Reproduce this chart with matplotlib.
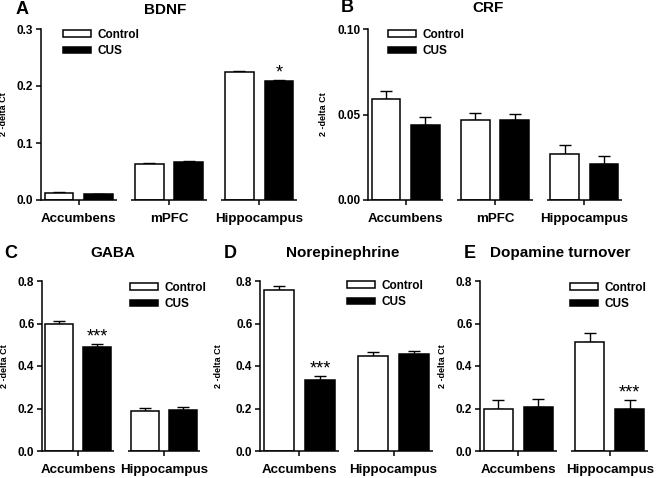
import matplotlib
matplotlib.use("Agg")
import matplotlib.pyplot as plt
from matplotlib.patches import Patch
import numpy as np

plt.rcParams['font.family'] = ['Liberation Sans', 'DejaVu Sans']
plt.rcParams['font.weight'] = 'bold'

# data
regions3 = ['Accumbens', 'mPFC', 'Hippocampus']
regions2 = ['Accumbens', 'Hippocampus']

bdnf_ctrl = [0.013, 0.064, 0.225]
bdnf_ctrl_err = [0.0015, 0.0015, 0.0012]
bdnf_cus = [0.010, 0.067, 0.209]
bdnf_cus_err = [0.001, 0.0015, 0.0012]
bdnf_stars = ['', '', '*']

crf_ctrl = [0.059, 0.047, 0.027]
crf_ctrl_err = [0.005, 0.004, 0.005]
crf_cus = [0.044, 0.047, 0.021]
crf_cus_err = [0.0045, 0.0035, 0.0045]
crf_stars = ['', '', '']

gaba_ctrl = [0.597, 0.188]
gaba_ctrl_err = [0.016, 0.016]
gaba_cus = [0.488, 0.193]
gaba_cus_err = [0.016, 0.016]
gaba_stars = ['***', '']

ne_ctrl = [0.757, 0.447]
ne_ctrl_err = [0.02, 0.018]
ne_cus = [0.335, 0.455]
ne_cus_err = [0.018, 0.017]
ne_stars = ['***', '']

da_ctrl = [0.198, 0.513]
da_ctrl_err = [0.04, 0.042]
da_cus = [0.205, 0.200]
da_cus_err = [0.04, 0.04]
da_stars = ['', '***']

W, H = 656, 478
fig = plt.figure(figsize=(W / 100, H / 100), dpi=100)

SP = 2.5      # group spacing
OFF = 0.55    # bar offset from group center
BW = 0.8      # bar width
HALF = 1.05   # half-length of axis segment


def px_axes(l, r, t, b):
    return fig.add_axes([l / W, 1 - b / H, (r - l) / W, (b - t) / H])


def panel(l, r, t, b, names, ctrl, ctrl_err, cus, cus_err, stars,
          ymax, yticks, fmt, letter, title, title_x, letter_x, text_y,
          ylab_x, leg_x, leg_y):
    ax = px_axes(l, r, t, b)
    x = np.arange(len(names)) * SP
    ax.bar(x - OFF, ctrl, BW, color='white', edgecolor='black', linewidth=1.1, zorder=2)
    ax.bar(x + OFF, cus, BW, color='black', edgecolor='black', linewidth=1.1, zorder=2)
    ax.errorbar(x - OFF, ctrl, yerr=[np.zeros(len(x)), ctrl_err], fmt='none',
                ecolor='black', elinewidth=1, capsize=4, capthick=1, zorder=1)
    ax.errorbar(x + OFF, cus, yerr=[np.zeros(len(x)), cus_err], fmt='none',
                ecolor='black', elinewidth=1, capsize=4, capthick=1, zorder=1)
    for xi, v, e, s in zip(x + OFF, cus, cus_err, stars):
        if s:
            ax.annotate(s, (xi, v + e), xytext=(0, -1), textcoords='offset points',
                        ha='center', va='bottom', fontsize=13, fontweight='normal')

    ax.set_xlim(-HALF, x[-1] + HALF)
    ax.set_ylim(0, ymax)
    for sp in ['top', 'right', 'bottom']:
        ax.spines[sp].set_visible(False)
    ax.spines['left'].set_linewidth(1.1)
    for xi in x:
        ax.plot([xi - HALF, xi + HALF], [0, 0], color='black', lw=1.1,
                clip_on=False, solid_capstyle='butt')
    ax.set_xticks(x)
    ax.set_xticklabels(names, fontsize=9.6, fontweight='bold')
    ax.set_yticks(yticks)
    ax.set_yticklabels([fmt % v for v in yticks], fontsize=8.5, fontweight='bold')
    ax.tick_params(axis='both', length=3.5, width=1.1, direction='out')
    ax.tick_params(axis='x', pad=6)
    ax.tick_params(axis='y', pad=2)

    ax.set_ylabel('2 -delta Ct', fontsize=6.5, fontweight='bold')
    ax.yaxis.set_label_coords((ylab_x - l) / (r - l), 0.5)

    fig.text(title_x / W, 1 - text_y / H, title, fontsize=11, fontweight='bold',
             ha='center', va='center')
    fig.text(letter_x / W, 1 - text_y / H, letter, fontsize=13, fontweight='bold',
             ha='left', va='center')

    handles = [Patch(facecolor='white', edgecolor='black', linewidth=1.1),
               Patch(facecolor='black', edgecolor='black', linewidth=1.1)]
    ax.legend(handles, ['Control', 'CUS'], loc='upper left',
              bbox_to_anchor=(leg_x / W, 1 - leg_y / H), bbox_transform=fig.transFigure,
              frameon=False, handlelength=2.4, handleheight=0.5,
              handletextpad=0.5, labelspacing=0.35, borderpad=0, borderaxespad=0,
              prop={'weight': 'bold', 'size': 8.5})
    return ax


panel(41, 297, 29, 200, regions3, bdnf_ctrl, bdnf_ctrl_err, bdnf_cus, bdnf_cus_err,
      bdnf_stars, 0.3, [0, 0.1, 0.2, 0.3], '%.1f', 'A', 'BDNF', 165, 16, 10,
      8, 63, 29)
panel(368, 622, 29, 200, regions3, crf_ctrl, crf_ctrl_err, crf_cus, crf_cus_err,
      crf_stars, 0.10, [0, 0.05, 0.10], '%.2f', 'B', 'CRF', 488, 341, 8,
      328, 388, 29)
panel(42, 200, 281, 451, regions2, gaba_ctrl, gaba_ctrl_err, gaba_cus, gaba_cus_err,
      gaba_stars, 0.8, [0, 0.2, 0.4, 0.6, 0.8], '%.1f', 'C', 'GABA', 113, 4, 253,
      9, 130, 282)
panel(260, 433, 281, 451, regions2, ne_ctrl, ne_ctrl_err, ne_cus, ne_cus_err,
      ne_stars, 0.8, [0, 0.2, 0.4, 0.6, 0.8], '%.1f', 'D', 'Norepinephrine', 343, 224, 253,
      223, 347, 280)
panel(480, 648, 281, 451, regions2, da_ctrl, da_ctrl_err, da_cus, da_cus_err,
      da_stars, 0.8, [0, 0.2, 0.4, 0.6, 0.8], '%.1f', 'E', 'Dopamine turnover', 560, 464, 253,
      447, 570, 282)

fig.savefig('out.png', dpi=100)
